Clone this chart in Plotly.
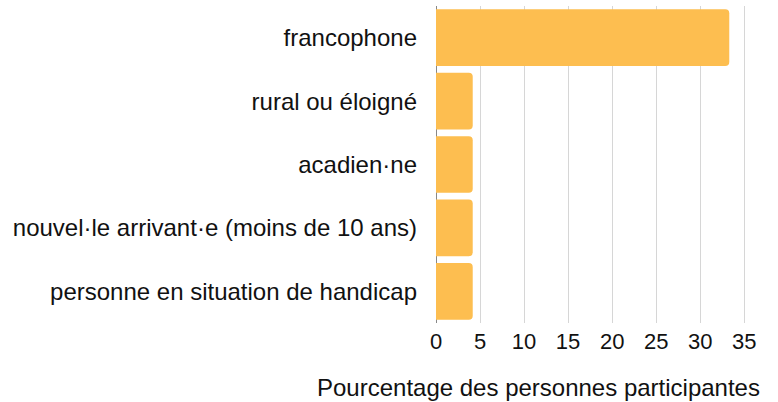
import plotly.graph_objects as go

categories = ["francophone", "rural ou éloigné", "acadien·ne",
              "nouvel·le arrivant·e (moins de 10 ans)",
              "personne en situation de handicap"]
values = [33.3, 4.17, 4.17, 4.17, 4.17]
tick_vals = [0, 5, 10, 15, 20, 25, 30, 35]
x_title = "Pourcentage des personnes participantes"

fig = go.Figure(go.Bar(
    x=values, y=categories, orientation="h",
    marker=dict(color="#FDBE50", line=dict(width=0)),
    hoverinfo="skip",
))

fig.update_layout(
    width=778, height=402,
    margin=dict(l=436, r=32, t=6, b=79, autoexpand=False),
    paper_bgcolor="white", plot_bgcolor="white",
    font=dict(family="Liberation Sans", size=24, color="#111111"),
    bargap=0.105,
    barcornerradius=4,
    showlegend=False,
    annotations=[dict(text=x_title, xref="paper", yref="paper",
                      x=1.05, y=-0.155, xanchor="right", yanchor="top",
                      showarrow=False, font=dict(size=24, color="#111111"))],
)
fig.update_xaxes(range=[0, 35.2], tickvals=tick_vals, showgrid=True,
                 gridcolor="#d6d6d6", gridwidth=1, zeroline=True,
                 zerolinecolor="#888888", zerolinewidth=1, automargin=False,
                 tickfont=dict(size=22),
                 ticks="", ticklabelstandoff=3, showline=False, fixedrange=True)
fig.update_yaxes(autorange="reversed", ticks="", ticklabelstandoff=18,
                 automargin=False, showline=False, showgrid=False, fixedrange=True)

fig.write_html("out.html", config={"displayModeBar": False},
               post_script="document.body.style.margin='0';")
